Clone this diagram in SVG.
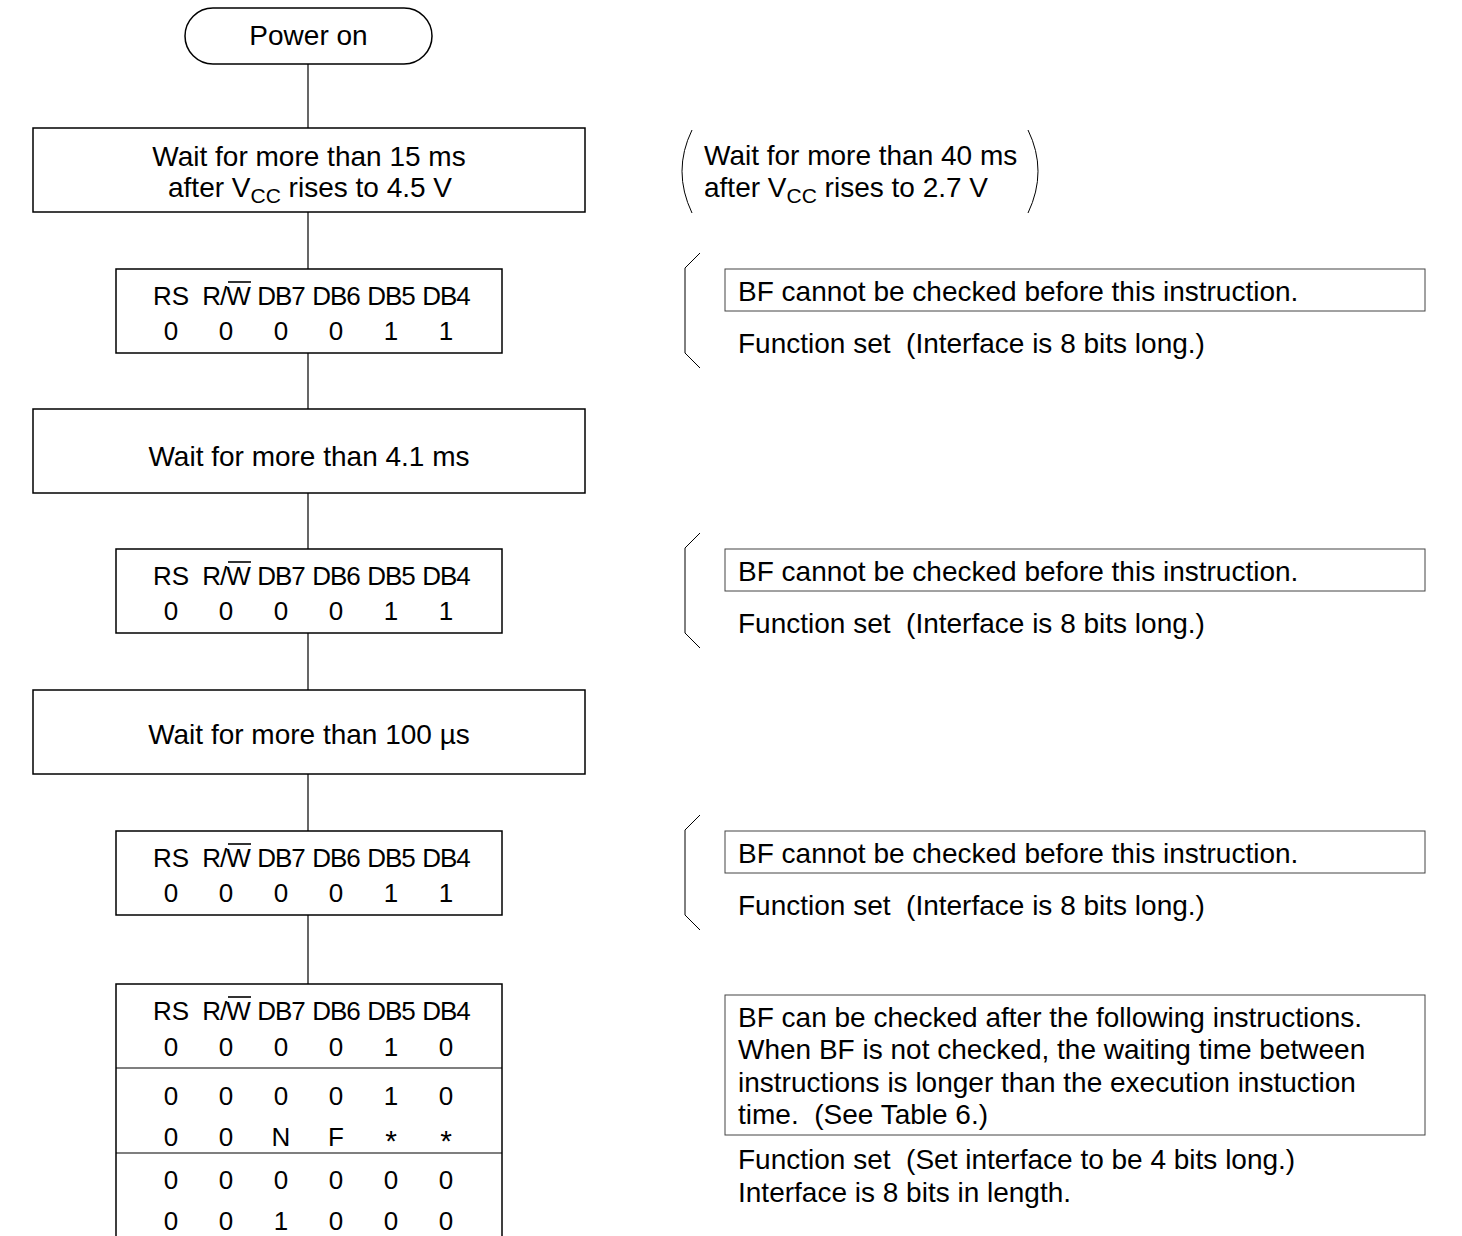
<svg xmlns="http://www.w3.org/2000/svg" width="1462" height="1236" viewBox="0 0 1462 1236">
<style>
.b{fill:#fff;stroke:#000;stroke-width:1.5}
.t{font-family:"Liberation Sans",Arial,sans-serif;font-size:28px;fill:#000;white-space:pre}
.h{font-size:26px}
.c{text-anchor:middle}
.l{stroke:#000;stroke-width:1.2;fill:none}
.br{stroke:#000;stroke-width:1;fill:none}
.nb{fill:#fff;stroke:#444;stroke-width:1}
.s{font-size:21px}
</style>
<defs>
<g id="hdr">
<text class="t h c" x="171" y="0">RS</text>
<text class="t h c" x="226" y="0" letter-spacing="-1">R/W</text>
<line x1="228" y1="-23" x2="251" y2="-23" stroke="#000" stroke-width="1.6"/>
<text class="t h c" x="281" y="0" letter-spacing="-1">DB7</text>
<text class="t h c" x="336" y="0" letter-spacing="-1">DB6</text>
<text class="t h c" x="391" y="0" letter-spacing="-1">DB5</text>
<text class="t h c" x="446" y="0" letter-spacing="-1">DB4</text>
</g>
<g id="r001">
<text class="t h c" x="171" y="0">0</text><text class="t h c" x="226" y="0">0</text><text class="t h c" x="281" y="0">0</text><text class="t h c" x="336" y="0">0</text><text class="t h c" x="391" y="0">1</text><text class="t h c" x="446" y="0">1</text>
</g>
<path id="brk" d="M700,0 L685,15 L685,100 L700,115"/>
</defs>
<g id="connectors">
<line class="l" x1="308" y1="64" x2="308" y2="128"/>
<line class="l" x1="308" y1="212" x2="308" y2="269"/>
<line class="l" x1="308" y1="353" x2="308" y2="409"/>
<line class="l" x1="308" y1="493" x2="308" y2="549"/>
<line class="l" x1="308" y1="633" x2="308" y2="690"/>
<line class="l" x1="308" y1="774" x2="308" y2="831"/>
<line class="l" x1="308" y1="915" x2="308" y2="984"/>
</g>
<g id="power-on">
<rect class="b" x="185" y="8" width="247" height="56" rx="28"/>
<text class="t c" x="308.5" y="45">Power on</text>
</g>
<g id="wait15">
<rect class="b" x="33" y="128" width="552" height="84"/>
<text class="t c" x="309" y="166">Wait for more than 15 ms</text>
<text class="t" x="168" y="197">after V<tspan class="s" dy="6">CC</tspan><tspan dy="-6"> rises to 4.5 V</tspan></text>
</g>
<g id="fs1">
<rect class="b" x="116" y="269" width="386" height="84"/>
<use href="#hdr" y="305"/>
<use href="#r001" y="340"/>
</g>
<g id="wait41">
<rect class="b" x="33" y="409" width="552" height="84"/>
<text class="t c" x="309" y="466">Wait for more than 4.1 ms</text>
</g>
<g id="fs2">
<rect class="b" x="116" y="549" width="386" height="84"/>
<use href="#hdr" y="585"/>
<use href="#r001" y="620"/>
</g>
<g id="wait100">
<rect class="b" x="33" y="690" width="552" height="84"/>
<text class="t c" x="309" y="744">Wait for more than 100 µs</text>
</g>
<g id="fs3">
<rect class="b" x="116" y="831" width="386" height="84"/>
<use href="#hdr" y="867"/>
<use href="#r001" y="902"/>
</g>
<g id="fs4">
<rect class="b" x="116" y="984" width="386" height="270"/>
<line class="l" x1="116" y1="1068" x2="502" y2="1068"/>
<line class="l" x1="116" y1="1153" x2="502" y2="1153"/>
<use href="#hdr" y="1020"/>
<g class="t h c">
<text x="171" y="1056">0</text><text x="226" y="1056">0</text><text x="281" y="1056">0</text><text x="336" y="1056">0</text><text x="391" y="1056">1</text><text x="446" y="1056">0</text>
<text x="171" y="1105">0</text><text x="226" y="1105">0</text><text x="281" y="1105">0</text><text x="336" y="1105">0</text><text x="391" y="1105">1</text><text x="446" y="1105">0</text>
<text x="171" y="1146">0</text><text x="226" y="1146">0</text><text x="281" y="1146">N</text><text x="336" y="1146">F</text><text x="391" y="1151" font-size="30">*</text><text x="446" y="1151" font-size="30">*</text>
<text x="171" y="1189">0</text><text x="226" y="1189">0</text><text x="281" y="1189">0</text><text x="336" y="1189">0</text><text x="391" y="1189">0</text><text x="446" y="1189">0</text>
<text x="171" y="1230">0</text><text x="226" y="1230">0</text><text x="281" y="1230">1</text><text x="336" y="1230">0</text><text x="391" y="1230">0</text><text x="446" y="1230">0</text>
</g>
</g>
<g id="note-40ms">
<path class="br" d="M692,130 Q672,171 692,213"/>
<path class="br" d="M1028,130 Q1048,171 1028,213"/>
<text class="t" x="704" y="165">Wait for more than 40 ms</text>
<text class="t" x="704" y="197">after V<tspan class="s" dy="6">CC</tspan><tspan dy="-6"> rises to 2.7 V</tspan></text>
</g>
<g id="note1">
<use href="#brk" class="br" y="253"/>
<rect class="nb" x="725" y="269" width="700" height="42"/>
<text class="t" x="738" y="301">BF cannot be checked before this instruction.</text>
<text class="t" x="738" y="353">Function set  (Interface is 8 bits long.)</text>
</g>
<g id="note2">
<use href="#brk" class="br" y="533"/>
<rect class="nb" x="725" y="549" width="700" height="42"/>
<text class="t" x="738" y="581">BF cannot be checked before this instruction.</text>
<text class="t" x="738" y="633">Function set  (Interface is 8 bits long.)</text>
</g>
<g id="note3">
<use href="#brk" class="br" y="815"/>
<rect class="nb" x="725" y="831" width="700" height="42"/>
<text class="t" x="738" y="863">BF cannot be checked before this instruction.</text>
<text class="t" x="738" y="915">Function set  (Interface is 8 bits long.)</text>
</g>
<g id="note4">
<rect class="nb" x="725" y="995" width="700" height="140"/>
<text class="t" x="738" y="1027">BF can be checked after the following instructions.</text>
<text class="t" x="738" y="1059">When BF is not checked, the waiting time between</text>
<text class="t" x="738" y="1092">instructions is longer than the execution instuction</text>
<text class="t" x="738" y="1124">time.  (See Table 6.)</text>
<text class="t" x="738" y="1169">Function set  (Set interface to be 4 bits long.)</text>
<text class="t" x="738" y="1202">Interface is 8 bits in length.</text>
</g>
</svg>
